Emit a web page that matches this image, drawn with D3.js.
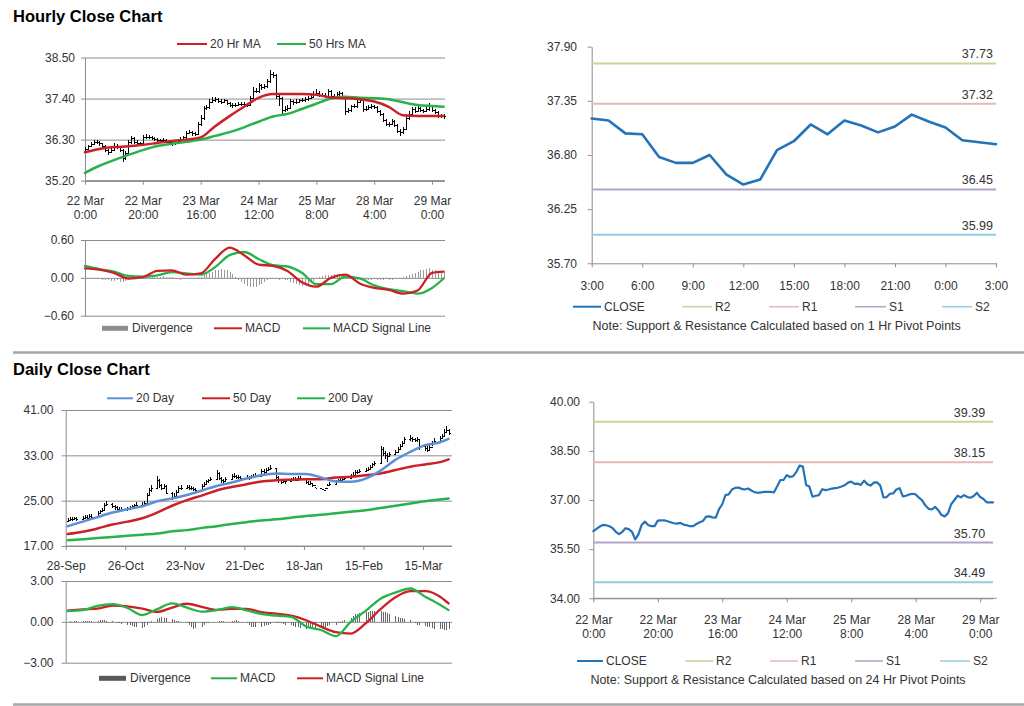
<!DOCTYPE html>
<html><head><meta charset="utf-8">
<script src="https://cdn.jsdelivr.net/npm/d3@7"></script>
<style>
body{margin:0;background:#fff}
svg{display:block;font-family:"Liberation Sans",Arial,sans-serif}
</style>
</head><body>
<svg id="c" width="1024" height="706"></svg>
<script>
// ---------------- HOURLY DATA (22 Mar 0:00 .. 29 Mar ~4:00) ----------------
const hourTickIdx = [0,20,40,60,80,100,120];
const hourTickLabels = [["22 Mar","0:00"],["22 Mar","20:00"],["23 Mar","16:00"],["24 Mar","12:00"],["25 Mar","8:00"],["28 Mar","4:00"],["29 Mar","0:00"]];
const hourFirstOpen = 36.00;
const hourClose = [
36.05,36.12,36.19,36.24,36.23,36.20,36.14,36.03,35.96,36.03,
36.14,36.11,36.03,35.80,35.95,36.24,36.34,36.24,36.20,36.20,
36.37,36.38,36.38,36.35,36.32,36.29,36.28,36.30,36.25,36.23,
36.20,36.20,36.27,36.32,36.36,36.49,36.50,36.47,36.46,36.72,
36.87,37.15,37.17,37.32,37.37,37.38,37.34,37.32,37.35,37.29,
37.24,37.22,37.23,37.25,37.25,37.25,37.23,37.41,37.61,37.61,
37.76,37.70,37.73,37.86,38.05,38.02,37.46,37.41,37.10,37.13,
37.15,37.33,37.30,37.32,37.35,37.36,37.38,37.41,37.45,37.53,
37.56,37.49,37.50,37.46,37.59,37.48,37.44,37.53,37.54,37.44,
37.08,37.09,37.19,37.20,37.32,37.36,37.11,37.13,37.17,37.19,
37.17,37.07,36.99,36.83,36.73,36.71,36.79,36.69,36.54,36.50,
36.59,36.87,37.00,37.13,37.08,37.15,37.09,37.07,37.12,37.22,
37.09,37.03,36.93,36.93,36.93];
const hourHigh = [
36.10,36.16,36.24,36.30,36.28,36.26,36.22,36.16,36.06,36.08,
36.20,36.18,36.14,36.06,36.00,36.30,36.40,36.36,36.28,36.25,
36.42,36.44,36.42,36.41,36.38,36.35,36.33,36.34,36.32,36.28,
36.26,36.25,36.31,36.36,36.41,36.54,36.56,36.54,36.51,36.78,
36.96,37.20,37.24,37.38,37.43,37.44,37.42,37.38,37.40,37.37,
37.30,37.27,37.28,37.30,37.30,37.30,37.29,37.46,37.70,37.68,
37.82,37.79,37.78,37.93,38.17,38.10,38.05,37.52,37.45,37.20,
37.22,37.38,37.37,37.38,37.40,37.41,37.43,37.46,37.50,37.60,
37.66,37.59,37.56,37.54,37.65,37.62,37.52,37.58,37.60,37.58,
37.46,37.15,37.24,37.26,37.37,37.42,37.38,37.19,37.22,37.25,
37.23,37.19,37.10,37.02,36.86,36.78,36.84,36.82,36.72,36.58,
36.64,36.93,37.06,37.18,37.17,37.20,37.18,37.13,37.17,37.27,
37.24,37.12,37.06,36.98,36.98];
const hourLow = [
35.98,36.03,36.10,36.16,36.17,36.14,36.08,35.97,35.90,35.93,
35.99,36.06,35.98,35.70,35.76,35.92,36.18,36.18,36.14,36.14,
36.18,36.32,36.33,36.30,36.27,36.24,36.23,36.23,36.20,36.18,
36.14,36.15,36.17,36.24,36.29,36.32,36.44,36.41,36.40,36.43,
36.66,36.82,37.10,37.12,37.28,37.32,37.28,37.26,37.28,37.22,
37.18,37.16,37.18,37.19,37.20,37.19,37.17,37.20,37.38,37.54,
37.56,37.64,37.66,37.68,37.82,37.94,37.40,37.20,36.98,37.04,
37.08,37.12,37.24,37.26,37.29,37.30,37.32,37.34,37.38,37.42,
37.48,37.44,37.44,37.41,37.42,37.42,37.38,37.40,37.48,37.38,
36.95,37.02,37.05,37.14,37.16,37.28,37.04,37.06,37.10,37.12,
37.11,37.02,36.92,36.77,36.66,36.64,36.68,36.63,36.48,36.40,
36.44,36.55,36.82,36.95,37.02,37.05,37.03,37.01,37.04,37.08,
37.04,36.98,36.88,36.87,36.86];
const hourMaIdx = [0,5,10,15,20,25,30,35,40,45,50,55,60,65,70,75,80,85,90,95,100,105,110,115,120,124];
const hourMa20 = [35.96,36.05,36.10,36.12,36.16,36.21,36.26,36.30,36.36,36.66,36.93,37.18,37.42,37.52,37.52,37.52,37.50,37.43,37.41,37.38,37.32,37.18,36.95,36.93,36.93,36.93];
const hourMa50 = [35.41,35.60,35.75,35.89,36.02,36.13,36.19,36.24,36.30,36.40,36.50,36.63,36.78,36.92,36.99,37.12,37.26,37.40,37.45,37.42,37.41,37.38,37.30,37.23,37.20,37.18];
const hourMacd = [0.15,0.13,0.08,-0.01,0.01,0.11,0.12,0.05,0.07,0.30,0.48,0.36,0.21,0.19,0.11,-0.07,-0.14,0.00,0.05,-0.09,-0.16,-0.19,-0.25,-0.20,0.08,0.10];
const hourSignal = [0.19,0.14,0.10,0.03,0.02,0.04,0.09,0.07,0.05,0.17,0.36,0.41,0.30,0.20,0.18,0.08,-0.10,-0.10,0.02,-0.01,-0.12,-0.18,-0.21,-0.25,-0.16,-0.01];
const hourDiv = [
-0.02,-0.02,-0.02,-0.02,-0.02,-0.02,
-0.03,-0.03,-0.04,-0.05,-0.05,-0.04,
-0.06,-0.06,-0.05,-0.03,-0.02,
0.01,0.02,0.02,0.03,0.03,0.02,0.02,0.01,0.02,0.02,0.03,0.02,0.02,0.01,
-0.01,-0.02,-0.03,-0.02,-0.02,-0.01,0.00,-0.01,0.01,0.02,
0.04,0.06,0.08,0.10,0.12,0.13,0.14,0.13,0.12,0.10,0.06,0.02,
-0.03,-0.07,-0.10,-0.13,-0.14,-0.15,-0.14,-0.12,-0.10,-0.07,
-0.04,-0.02,-0.01,-0.02,-0.03,-0.02,-0.03,-0.04,
-0.06,-0.08,-0.10,-0.11,-0.13,-0.12,-0.10,-0.08,-0.05,-0.02,
0.01,0.03,0.04,0.05,0.05,0.06,0.05,0.04,0.03,0.02,
-0.01,-0.02,-0.03,-0.04,-0.03,-0.03,-0.04,-0.04,-0.03,-0.02,-0.03,-0.04,-0.03,-0.02,-0.03,-0.03,-0.02,-0.01,-0.02,0.01,
0.03,0.04,0.06,0.08,0.10,0.12,0.13,0.14,0.15,0.13,0.12,0.10,0.11,0.09];

// ---------------- 1 HR PIVOT PANEL ----------------
const pivotHours = ["3:00","4:00","5:00","6:00","7:00","8:00","9:00","10:00","11:00","12:00","13:00","14:00","15:00","16:00","17:00","18:00","19:00","20:00","21:00","22:00","23:00","0:00","1:00","2:00","3:00"];
const pivotClose = [37.17,37.15,37.02,37.01,36.78,36.72,36.72,36.80,36.60,36.50,36.55,36.85,36.94,37.11,37.01,37.15,37.10,37.03,37.09,37.21,37.14,37.08,36.95,36.93,36.91];
const levelNames = ["R2","R1","S1","S2"];
const levelColors = ["#c3d69b","#e6b9b8","#b3a2c7","#93cddd"];
const hrLevels = [37.73,37.32,36.45,35.99];
const hrYTicks = [35.70,36.25,36.80,37.35,37.90];
const dayLevels = [39.39,38.15,35.70,34.49];
const dayPivotYTicks = [34.00,35.50,37.00,38.50,40.00];

// ---------------- DAILY DATA (29-Sep-2014 .. 27-Mar-2015, trading days) ----------------
const dailyFirstDay = "2014-09-29";
const dailyTickDates = ["2014-09-28","2014-10-26","2014-11-23","2014-12-21","2015-01-18","2015-02-15","2015-03-15"];
const dailyClose = [
21.6,21.8,21.7,21.9,21.8, 21.9,22.1,22.0,22.3,22.2, 22.8,23.1,23.3,24.3,24.5, 24.0,23.8,23.6,23.4,23.6,
23.5,23.8,24.0,24.2,24.3, 24.3,24.6,26.0,26.8,27.2, 28.6,27.8,27.3,27.6,26.4, 25.6,25.8,26.5,27.2,27.3,
27.4,27.2,27.3,27.0,26.9, 27.6,28.0,28.4,28.6,28.8, 29.9,29.0,28.6,28.4,28.8, 29.3,29.4,29.1,29.2,29.0,
29.1,29.0,29.2,29.3,29.4, 30.2,30.1,30.4,30.6,30.8, 29.2,28.6,28.3,28.5,28.4, 28.6,28.8,28.7,29.0,28.9,
28.3,28.0,28.2,27.8,27.3, 27.1,26.9,27.2,27.8,28.0, 28.4,28.6,28.7,28.9,29.0, 29.3,29.6,30.1,30.0,30.2,
30.4,30.6,30.9,31.4,31.6, 34.2,33.4,33.0,32.8,33.2, 33.6,34.1,34.6,35.2,35.8, 36.0,35.8,35.7,35.9,34.6,
34.3,34.0,34.5,35.2,35.6, 36.1,36.4,37.2,37.5,37.0];
const dailyHigh = [
22.0,22.1,22.1,22.2,22.2, 22.3,22.4,22.4,22.6,22.6, 23.1,23.4,23.7,24.6,25.0, 24.6,24.3,24.0,23.9,23.9,
23.9,24.1,24.3,24.5,24.7, 24.8,25.0,26.4,27.3,27.8, 29.4,28.8,28.0,27.9,27.7, 26.5,26.3,26.9,27.6,27.7,
27.8,27.7,27.6,27.5,27.3, 27.9,28.3,28.7,28.9,29.2, 30.4,30.0,29.2,28.9,29.2, 29.7,29.8,29.6,29.5,29.4,
29.5,29.4,29.5,29.7,29.8, 30.6,30.6,30.8,31.0,31.3, 30.6,29.3,28.8,28.9,28.8, 29.0,29.2,29.1,29.4,29.3,
28.9,28.4,28.5,28.1,27.4, 27.2,27.0,27.3,28.0,28.3, 28.7,28.9,29.0,29.2,29.4, 29.7,30.0,30.5,30.4,30.6,
30.8,31.0,31.3,31.7,32.0, 34.6,34.4,33.8,33.4,33.6, 34.0,34.5,35.0,35.6,36.3, 36.6,36.3,36.1,36.3,35.9,
34.8,34.6,34.9,35.6,36.0, 36.5,36.8,37.7,38.1,37.6];
const dailyLow = [
21.3,21.5,21.4,21.6,21.5, 21.6,21.8,21.7,21.9,21.9, 22.3,22.7,23.0,23.2,24.0, 23.7,23.4,23.3,23.1,23.2,
23.2,23.4,23.7,23.9,24.0, 24.0,24.2,24.5,25.9,26.6, 27.1,27.3,26.9,27.0,26.1, 25.2,25.4,25.7,26.4,26.9,
27.0,26.9,26.9,26.7,26.6, 26.8,27.5,27.9,28.2,28.5, 28.7,28.6,28.2,28.0,28.3, 28.7,29.0,28.8,28.9,28.7,
28.8,28.7,28.9,29.0,29.1, 29.4,29.7,30.0,30.2,30.4, 28.9,28.2,27.9,28.1,28.0, 28.3,28.5,28.4,28.6,28.6,
27.9,27.7,27.9,27.5,27.2, 27.0,26.8,27.1,27.6,27.7, 28.0,28.3,28.4,28.6,28.7, 28.9,29.2,29.6,29.7,29.9,
30.1,30.3,30.5,30.9,31.2, 31.6,32.8,32.3,31.9,32.7, 33.1,33.5,34.0,34.6,35.2, 35.5,35.3,35.3,35.4,34.0,
33.8,33.6,33.9,34.6,35.1, 35.5,35.9,36.3,37.0,36.6];
const dailyFirstOpen = 21.5;
const dailyMaIdx = [0,5,10,15,20,25,30,35,40,45,50,55,60,65,70,75,80,85,90,95,100,105,110,115,120,125,129];
const dailyMa20 = [20.5,21.3,22.1,22.9,23.5,24.0,24.9,25.4,26.0,26.8,27.6,28.2,28.9,29.5,29.8,29.7,29.7,29.1,28.4,28.35,28.9,30.3,32.2,33.6,34.8,35.3,35.9];
const dailyMa50 = [19.1,19.5,20.1,20.8,21.3,21.9,22.9,24.1,25.1,25.9,26.8,27.4,27.9,28.4,28.6,28.7,28.8,28.8,29.1,29.2,29.5,29.8,30.4,31.0,31.4,31.8,32.3];
const dailyMa200 = [18.0,18.2,18.4,18.6,18.8,19.0,19.2,19.6,19.8,20.2,20.5,20.9,21.2,21.5,21.7,22.0,22.3,22.5,22.8,23.05,23.3,23.7,24.1,24.5,24.9,25.2,25.4];
const dailyMacd = [0.79,0.86,1.18,1.30,1.02,0.50,0.93,1.35,1.05,0.75,0.86,1.08,0.85,0.58,0.45,0.37,-0.34,-0.60,-1.05,0.00,0.80,1.70,2.15,2.45,1.85,1.25,0.86];
const dailySignal = [0.82,0.91,0.97,1.20,1.14,0.98,0.73,1.05,1.33,1.10,0.88,0.95,0.95,0.72,0.60,0.45,0.12,-0.35,-0.76,-0.86,-0.12,0.93,1.80,2.25,2.26,1.85,1.35];
const dailyDiv = [
0.02,0.03,0.02,0.03,0.04, 0.03,0.04,0.05,0.06,0.07, 0.08,0.10,0.12,0.10,0.08, 0.05,0.02,-0.05,-0.10,-0.15,
-0.20,-0.25,-0.30,-0.35,-0.40, -0.45,-0.38,-0.25,-0.10,0.05, 0.20,0.30,0.35,0.30,0.25, 0.18,0.12,0.08,0.05,0.02,
-0.10,-0.25,-0.40,-0.50,-0.45, -0.35,-0.20,-0.10,-0.05,0.00, 0.02,0.05,0.06,0.04,0.02, 0.05,0.08,0.10,0.06,0.02,
-0.10,-0.25,-0.35,-0.40,-0.38, -0.35,-0.30,-0.25,-0.20,-0.15, -0.10,-0.08,-0.10,-0.15,-0.20, -0.25,-0.30,-0.35,-0.40,-0.45,
-0.50,-0.48,-0.45,-0.40,-0.42, -0.45,-0.40,-0.35,-0.30,-0.25, -0.20,-0.10,-0.05,0.05,0.15, 0.30,0.45,0.55,0.60,0.65,
0.70,0.75,0.80,0.82,0.80, 0.78,0.75,0.70,0.65,0.55, 0.45,0.38,0.30,0.25,0.20, 0.10,0.00,-0.10,-0.20,-0.25,
-0.30,-0.35,-0.40,-0.45,-0.50, -0.55,-0.55,-0.60,-0.60,-0.55];

// ---------------- RENDERING ----------------
const svg = d3.select("#c");
const AX = "#8c8c8c", TXT = "#333";
const RED = "#cc2027", GRN = "#27b24a", BLU = "#5b8fd6", CLOSEC = "#2472b8";

function styleAxis(g){
  g.selectAll("path.domain").attr("stroke",AX);
  g.selectAll(".tick line").attr("stroke",AX);
  g.selectAll("text").attr("fill",TXT).style("font-size","12px").style("font-family","'Liberation Sans',Arial,sans-serif");
}
function yAxis(y, ticks, x0, x1, labelRight, grid, fmt){
  if (grid){
    const gg = svg.append("g").attr("transform",`translate(${x0},0)`)
      .call(d3.axisLeft(y).tickValues(ticks).tickSize(-(x1-x0)).tickFormat(""));
    gg.select(".domain").remove();
    gg.selectAll(".tick line").attr("stroke",AX);
  }
  const g = svg.append("g").attr("transform",`translate(${x0},0)`)
    .call(d3.axisLeft(y).tickValues(ticks).tickSize(4).tickSizeOuter(0).tickPadding(x0-labelRight-4).tickFormat(fmt||d3.format(".2f")));
  styleAxis(g);
  return g;
}
function xAxis(x, yPix, ticks, fmt, twoLine, lineGap, pad){
  const g = svg.append("g").attr("transform",`translate(0,${yPix})`)
    .call(d3.axisBottom(x).tickValues(ticks).tickSize(4).tickSizeOuter(0).tickPadding(pad).tickFormat(twoLine?()=>"":fmt));
  styleAxis(g);
  if (twoLine){
    g.selectAll(".tick text").each(function(d,i){
      const t = d3.select(this);
      t.append("tspan").attr("x",0).attr("dy","0.71em").text(twoLine[i][0]);
      t.append("tspan").attr("x",0).attr("dy",lineGap+"px").text(twoLine[i][1]);
    });
  }
  return g;
}
function legendLine(x1,x2,y,color,label,w){
  svg.append("line").attr("x1",x1).attr("x2",x2).attr("y1",y).attr("y2",y).attr("stroke",color).attr("stroke-width",w||2);
  svg.append("text").attr("x",x2+3).attr("y",y+4).attr("fill",TXT).style("font-size","12px").text(label);
}
function legendBox(x1,x2,y,color,label){
  svg.append("rect").attr("x",x1).attr("y",y-2.5).attr("width",x2-x1).attr("height",5).attr("fill",color);
  svg.append("text").attr("x",x2+4).attr("y",y+4).attr("fill",TXT).style("font-size","12px").text(label);
}
function ohlc(xf, y, opens, highs, lows, closes){
  const g = svg.append("g").attr("stroke","#000").attr("stroke-width",1.2).attr("shape-rendering","crispEdges");
  closes.forEach((c,i)=>{
    const xp = Math.round(xf(i))+0.5;
    g.append("line").attr("x1",xp).attr("x2",xp).attr("y1",y(highs[i])).attr("y2",y(lows[i]));
    g.append("line").attr("x1",xp-1.5).attr("x2",xp).attr("y1",Math.round(y(opens[i]))+0.5).attr("y2",Math.round(y(opens[i]))+0.5);
    g.append("line").attr("x1",xp).attr("x2",xp+1.5).attr("y1",Math.round(y(c))+0.5).attr("y2",Math.round(y(c))+0.5);
  });
}
function path(data, xf, y, color, w, curve){
  svg.append("path").datum(data).attr("fill","none").attr("stroke",color).attr("stroke-width",w)
    .attr("stroke-linejoin","round").attr("stroke-linecap","round")
    .attr("d", d3.line().x(d=>xf(d[0])).y(d=>y(d[1])).curve(curve||d3.curveLinear));
}
function divBars(xf, y, vals, color){
  const g = svg.append("g").attr("shape-rendering","crispEdges");
  g.selectAll("rect").data(vals).join("rect")
    .attr("x",(d,i)=>Math.round(xf(i)))
    .attr("width",1)
    .attr("y",d=>Math.min(y(d),y(0)))
    .attr("height",d=>Math.abs(y(d)-y(0)))
    .attr("fill",color);
}

// Titles & separators
svg.append("text").attr("x",13).attr("y",22).attr("font-weight","bold").style("font-size","16.5px").attr("fill","#000").text("Hourly Close Chart");
svg.append("text").attr("x",13).attr("y",375).attr("font-weight","bold").style("font-size","16.5px").attr("fill","#000").text("Daily Close Chart");
[352.5, 704.5].forEach(yy=>svg.append("line").attr("x1",13).attr("x2",1024).attr("y1",yy).attr("y2",yy).attr("stroke","#a6a6a6").attr("stroke-width",2.5));

// ===== Panel 1: hourly bars =====
{
  const x = d3.scaleLinear().domain([0,124]).range([85,443.6]);
  const y = d3.scaleLinear().domain([35.2,38.5]).range([180.7,57.5]);
  yAxis(y,[35.2,36.3,37.4,38.5],85,445,75,true);
  xAxis(x,180.7,hourTickIdx,null,hourTickLabels,13.5,12);
  svg.append("line").attr("x1",85).attr("x2",445).attr("y1",180.7).attr("y2",180.7).attr("stroke",AX);
  const opens = hourClose.map((c,i)=> i===0 ? hourFirstOpen : hourClose[i-1]);
  ohlc(x,y,opens,hourHigh,hourLow,hourClose);
  path(hourMaIdx.map((d,i)=>[d,hourMa50[i]]),x,y,GRN,2.5,d3.curveMonotoneX);
  path(hourMaIdx.map((d,i)=>[d,hourMa20[i]]),x,y,RED,2.5,d3.curveMonotoneX);
  legendLine(177,207,44,RED,"20 Hr MA");
  legendLine(277,306,44,GRN,"50 Hrs MA");

  // MACD
  const ym = d3.scaleLinear().domain([-0.6,0.6]).range([315.7,240]);
  yAxis(ym,[-0.6,0,0.6],85,445,74,true);
  divBars(x,ym,hourDiv,"#9a9a9a");
  path(hourMaIdx.map((d,i)=>[d,hourSignal[i]]),x,ym,GRN,2.3,d3.curveMonotoneX);
  path(hourMaIdx.map((d,i)=>[d,hourMacd[i]]),x,ym,RED,2.3,d3.curveMonotoneX);
  legendBox(102,128,328.3,"#8c8c8c","Divergence");
  legendLine(214,242,328.3,RED,"MACD");
  legendLine(303,330,328.3,GRN,"MACD  Signal Line");
}

// ===== Panel 2: 1 Hr pivot =====
function pivotPanel(x, y, closes, levels, labelRightOffset, yTicks, labelRight, closeW){
  yAxis(y,yTicks,x.range()[0],x.range()[1],labelRight,false);
  levels.forEach((v,i)=>{
    svg.append("line").attr("x1",x.range()[0]).attr("x2",x.range()[1]).attr("y1",y(v)).attr("y2",y(v))
      .attr("stroke",levelColors[i]).attr("stroke-width",2);
    svg.append("text").attr("x",x.range()[1]-labelRightOffset).attr("y",y(v)-5).attr("text-anchor","end")
      .attr("fill",TXT).style("font-size","12.5px").text(d3.format(".2f")(v));
  });
  path(closes.map((c,i)=>[i,c]),x,y,CLOSEC,closeW);
}
{
  const x = d3.scaleLinear().domain([0,24]).range([591.7,996]);
  const y = d3.scaleLinear().domain([35.7,37.9]).range([263.3,46.7]);
  pivotPanel(x,y,pivotClose,hrLevels,3,hrYTicks,577,2.6);
  xAxis(x,263.3,d3.range(0,25,3),i=>pivotHours[i],null,0,14);
  const ly = 306.7;
  legendLine(573,601,ly,CLOSEC,"CLOSE",2);
  levelNames.forEach((n,i)=>legendLine([682,769,855,942][i],[712,799,886,972][i],ly,levelColors[i],n,1.5));
  svg.append("text").attr("x",776.7).attr("y",329.5).attr("text-anchor","middle").attr("fill",TXT).style("font-size","12.5px")
    .text("Note: Support & Resistance Calculated based on 1 Hr Pivot Points");
}

// ===== Panel 3: daily bars =====
{
  const parse = d3.timeParse("%Y-%m-%d");
  const start = parse(dailyFirstDay);
  const dates = dailyClose.map((c,i)=>d3.timeDay.offset(start, 7*Math.floor(i/5) + i%5));
  const tickDates = dailyTickDates.map(parse);
  const x = d3.scaleTime().domain([tickDates[0], d3.timeDay.offset(tickDates[0],181)]).range([65.7,450.7]);
  const xi = i => x(dates[i]);
  const y = d3.scaleLinear().domain([17,41]).range([546,410]);
  yAxis(y,[17,25,33,41],65.7,452,53.5,true,d3.format(".2f"));
  xAxis(x,546,tickDates,d3.timeFormat("%d-%b"),null,0,11);
  svg.append("line").attr("x1",65.7).attr("x2",452).attr("y1",546).attr("y2",546).attr("stroke",AX);
  const opens = dailyClose.map((c,i)=> i===0 ? dailyFirstOpen : dailyClose[i-1]);
  ohlc(xi,y,opens,dailyHigh,dailyLow,dailyClose);
  path(dailyMaIdx.map((d,i)=>[d,dailyMa200[i]]),xi,y,GRN,2.5,d3.curveMonotoneX);
  path(dailyMaIdx.map((d,i)=>[d,dailyMa50[i]]),xi,y,RED,2.5,d3.curveMonotoneX);
  path(dailyMaIdx.map((d,i)=>[d,dailyMa20[i]]),xi,y,BLU,2.5,d3.curveMonotoneX);
  legendLine(107,133,398.3,BLU,"20 Day");
  legendLine(202,230,398.3,RED,"50 Day");
  legendLine(297,325,398.3,GRN,"200 Day");

  const ym = d3.scaleLinear().domain([-3,3]).range([662.7,581]);
  yAxis(ym,[-3,0,3],65.7,452,53.5,true);
  divBars(xi,ym,dailyDiv,"#666");
  path(dailyMaIdx.map((d,i)=>[d,dailySignal[i]]),xi,ym,RED,2.3,d3.curveMonotoneX);
  path(dailyMaIdx.map((d,i)=>[d,dailyMacd[i]]),xi,ym,GRN,2.3,d3.curveMonotoneX);
  legendBox(99,126,678.3,"#595959","Divergence");
  legendLine(211,237,678.3,GRN,"MACD");
  legendLine(297,323,678.3,RED,"MACD  Signal Line");
}

// ===== Panel 4: 24 Hr pivot =====
{
  const x = d3.scaleLinear().domain([0,124]).range([593.3,993.1]);
  const y = d3.scaleLinear().domain([34,40]).range([598.3,401.7]);
  pivotPanel(x,y,hourClose,dayLevels,8,dayPivotYTicks,580,2.2);
  xAxis(x,598.3,hourTickIdx,null,hourTickLabels,14.5,13);
  svg.append("line").attr("x1",593.3).attr("x2",996.7).attr("y1",598.3).attr("y2",598.3).attr("stroke",AX);
  const ly = 661;
  legendLine(577,603,ly,CLOSEC,"CLOSE",2);
  levelNames.forEach((n,i)=>legendLine([685,770,855,940][i],[713,798,883,970][i],ly,levelColors[i],n,1.5));
  svg.append("text").attr("x",778).attr("y",684).attr("text-anchor","middle").attr("fill",TXT).style("font-size","12.5px")
    .text("Note: Support & Resistance Calculated based on 24 Hr Pivot Points");
}
</script>
</body></html>
